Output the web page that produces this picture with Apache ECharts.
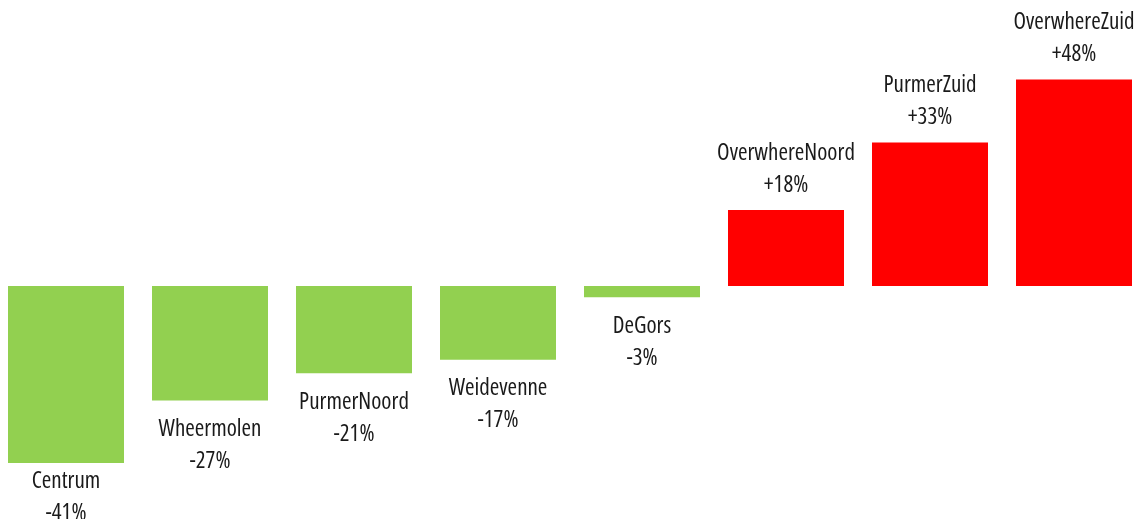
<!DOCTYPE html>
<html>
<head>
<meta charset="utf-8">
<script src="https://cdn.jsdelivr.net/npm/echarts@6/dist/echarts.min.js"></script>
<style>
html,body{margin:0;padding:0;background:#fff;}
#chart{width:1145px;height:519px;}
</style>
</head>
<body>
<div id="chart"></div>
<script>
var categories = ['Centrum', 'Wheermolen', 'PurmerNoord', 'Weidevenne', 'DeGors', 'OverwhereNoord', 'PurmerZuid', 'OverwhereZuid'];
var values = [-41.0, -26.5, -20.2, -17.1, -2.6, 17.6, 33.2, 47.8];
var valueLabels = ['-41%', '-27%', '-21%', '-17%', '-3%', '+18%', '+33%', '+48%'];

var chart = echarts.init(document.getElementById('chart'));
chart.setOption({
  animation: false,
  backgroundColor: '#ffffff',
  grid: { left: -6, right: -1, top: 70, bottom: 17, outerBoundsMode: 'none' },
  xAxis: { type: 'category', data: categories, show: false },
  yAxis: { type: 'value', min: -50, max: 50, show: false, splitLine: { show: false } },
  labelLayout: function (p) {
    var r = p.labelRect;
    var limit = chart.getHeight() + 10;
    if (r.y + r.height > limit) {
      return { y: limit - r.height };
    }
  },
  series: [{
    type: 'bar',
    barWidth: 116,
    data: values.map(function (v) {
      return {
        value: v,
        itemStyle: { color: v < 0 ? '#92D050' : '#FF0000' },
        label: { position: v < 0 ? 'bottom' : 'top', distance: v < 0 ? 13 : 9 }
      };
    }),
    label: {
      show: true,
      color: '#1a1a1a',
      fontSize: 23,
      fontWeight: 'condensed',
      lineHeight: 32,
      fontFamily: '"Open Sans", sans-serif',
      align: 'center',
      formatter: function (p) { return categories[p.dataIndex] + '\n' + valueLabels[p.dataIndex]; }
    }
  }]
});
</script>
</body>
</html>
